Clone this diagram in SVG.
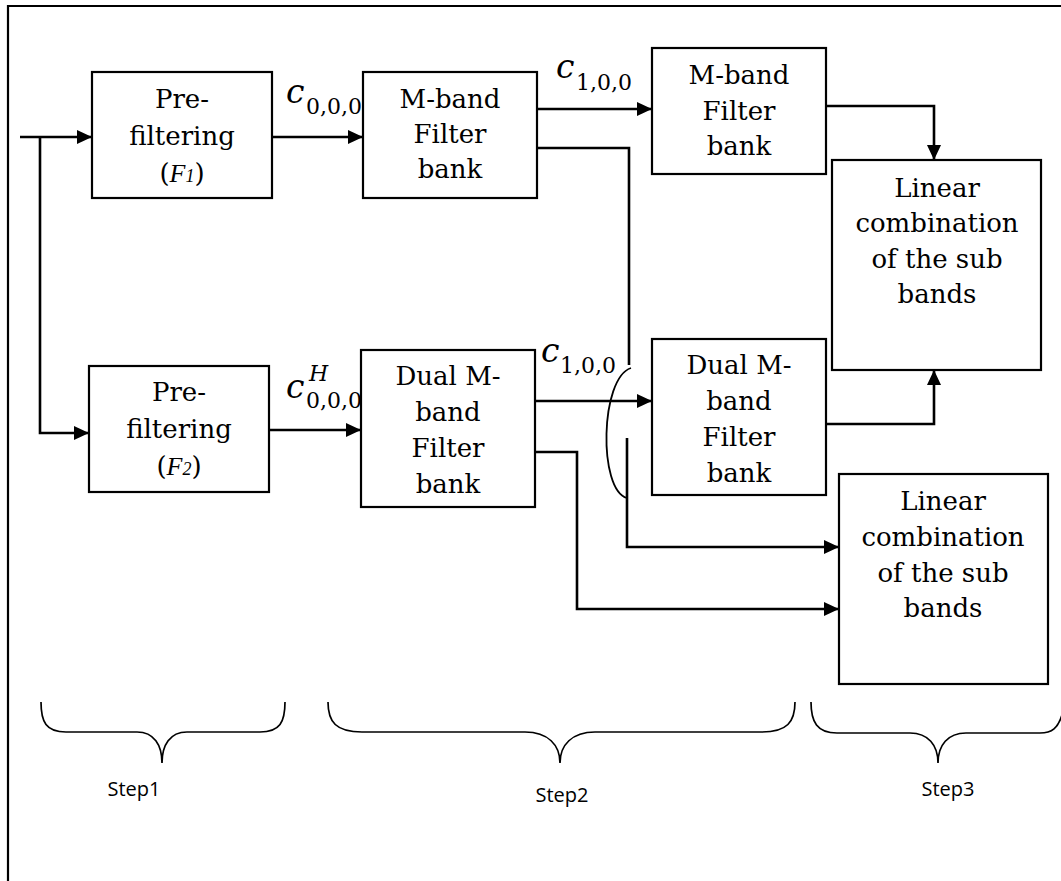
<svg xmlns="http://www.w3.org/2000/svg" width="1061" height="881" viewBox="0 0 1061 881">
<style>
.box{fill:#fff;stroke:#000;stroke-width:2.2}
.t{font-family:"DejaVu Serif","Liberation Serif",serif;font-size:26px;fill:#000;text-anchor:middle}
.c{stroke:#000;stroke-width:2.6;fill:none}
.m{font-family:"DejaVu Serif","Liberation Serif",serif;fill:#000}
.mi{font-family:"DejaVu Serif","Liberation Serif",serif;font-style:italic;fill:#000}
.s{font-family:"Open Sans","Liberation Sans",sans-serif;font-size:20px;fill:#000;text-anchor:middle}
.br{stroke:#000;stroke-width:1.7;fill:none}
</style>
<defs>
<marker id="ah" markerUnits="userSpaceOnUse" markerWidth="15" markerHeight="14" refX="15" refY="7" orient="auto">
<path d="M0,0 L15,7 L0,14 z" fill="#000"/>
</marker>
</defs>
<rect width="1061" height="881" fill="#fff"/>
<path d="M8,881 V6 H1061" stroke="#000" stroke-width="2.2" fill="none"/>

<g id="connectors">
<path class="c" d="M20,137 H92" marker-end="url(#ah)"/>
<path class="c" d="M40,137 V433 H89" marker-end="url(#ah)"/>
<path class="c" d="M272,137 H363" marker-end="url(#ah)"/>
<path class="c" d="M269,430 H361" marker-end="url(#ah)"/>
<path class="c" d="M537,109 H652" marker-end="url(#ah)"/>
<path class="c" d="M537,148 H629 V365"/>
<path class="c" d="M535,401 H652" marker-end="url(#ah)"/>
<path class="c" d="M535,452 H577 V609 H839" marker-end="url(#ah)"/>
<path class="c" d="M627,438 V547 H839" marker-end="url(#ah)"/>
<path class="c" d="M826,106 H934 V160" marker-end="url(#ah)"/>
<path class="c" d="M826,424 H934 V370" marker-end="url(#ah)"/>
<path d="M631,368 C600,378 598,490 627,498" stroke="#000" stroke-width="1.8" fill="none"/>
</g>

<g id="labels">
<text class="mi" x="286" y="103" font-size="33">c</text>
<text class="m" x="306" y="114" font-size="22">0,0,0</text>
<text class="mi" x="556" y="78" font-size="33">c</text>
<text class="m" x="576" y="90" font-size="22">1,0,0</text>
<text class="mi" x="286" y="398" font-size="33">c</text>
<text class="mi" x="309" y="381" font-size="22">H</text>
<text class="m" x="306" y="408" font-size="22">0,0,0</text>
<text class="mi" x="541" y="362" font-size="33">c</text>
<text class="m" x="560" y="373" font-size="22">1,0,0</text>
</g>

<g id="prefilter1">
<rect class="box" x="92" y="72" width="180" height="126"/>
<text class="t" x="182" y="108">Pre-</text>
<text class="t" x="182" y="145">filtering</text>
<text class="t" x="182" y="182">(<tspan font-style="italic" font-family="Liberation Serif,serif">F</tspan><tspan font-style="italic" font-family="Liberation Serif,serif" font-size="18">1</tspan>)</text>
</g>

<g id="prefilter2">
<rect class="box" x="89" y="366" width="180" height="126"/>
<text class="t" x="179" y="401">Pre-</text>
<text class="t" x="179" y="438">filtering</text>
<text class="t" x="179" y="475">(<tspan font-style="italic" font-family="Liberation Serif,serif">F</tspan><tspan font-style="italic" font-family="Liberation Serif,serif" font-size="18">2</tspan>)</text>
</g>

<g id="mband1">
<rect class="box" x="363" y="72" width="174" height="126"/>
<text class="t" x="450" y="108">M-band</text>
<text class="t" x="450" y="143">Filter</text>
<text class="t" x="450" y="178">bank</text>
</g>

<g id="dualmband1">
<rect class="box" x="361" y="350" width="174" height="157"/>
<text class="t" x="448" y="385">Dual M-</text>
<text class="t" x="448" y="421">band</text>
<text class="t" x="448" y="457">Filter</text>
<text class="t" x="448" y="493">bank</text>
</g>

<g id="mband2">
<rect class="box" x="652" y="48" width="174" height="126"/>
<text class="t" x="739" y="84">M-band</text>
<text class="t" x="739" y="120">Filter</text>
<text class="t" x="739" y="155">bank</text>
</g>

<g id="dualmband2">
<rect class="box" x="652" y="339" width="174" height="156"/>
<text class="t" x="739" y="374">Dual M-</text>
<text class="t" x="739" y="410">band</text>
<text class="t" x="739" y="446">Filter</text>
<text class="t" x="739" y="482">bank</text>
</g>

<g id="linear1">
<rect class="box" x="832" y="160" width="209" height="210"/>
<text class="t" x="937" y="197">Linear</text>
<text class="t" x="937" y="232">combination</text>
<text class="t" x="937" y="268">of the sub</text>
<text class="t" x="937" y="303">bands</text>
</g>

<g id="linear2">
<rect class="box" x="839" y="474" width="209" height="210"/>
<text class="t" x="943" y="510">Linear</text>
<text class="t" x="943" y="546">combination</text>
<text class="t" x="943" y="582">of the sub</text>
<text class="t" x="943" y="617">bands</text>
</g>

<g id="brace1">
<path class="br" d="M41,702 C41,722 46,732 66,732 H137 C154,732 162,745 162,763 C162,745 170,732 187,732 H260 C280,732 285,722 285,702"/>
<text class="s" x="134" y="796">Step1</text>
</g>
<g id="brace2">
<path class="br" d="M328,702 C328,722 336,732 362,732 H525 C548,732 560,745 560,763 C560,745 572,732 595,732 H762 C787,732 795,722 795,702"/>
<text class="s" x="562" y="802">Step2</text>
</g>
<g id="brace3">
<path class="br" d="M811,702 C811,722 817,733 837,733 H910 C928,733 938,745 938,763 C938,745 948,733 966,733 H1040 C1052,733 1058,728 1062,715"/>
<text class="s" x="948" y="796">Step3</text>
</g>
</svg>
